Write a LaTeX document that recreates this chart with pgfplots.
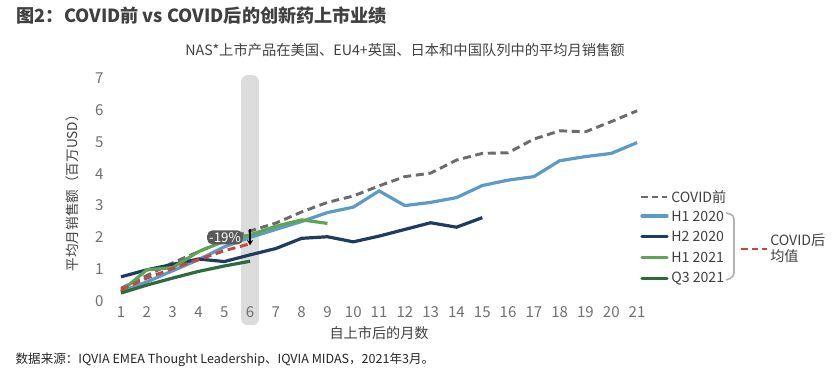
\documentclass[border=0pt]{standalone}
\usepackage{pgfplots}
\pgfplotsset{compat=1.18}
\usepackage{fontspec}
\setmainfont{Noto Sans CJK SC}
\usetikzlibrary{arrows.meta}
\definecolor{pregray}{HTML}{6B6B6B}
\definecolor{hoa}{HTML}{5B9BC6}
\definecolor{htb}{HTML}{1E3B62}
\definecolor{hoc}{HTML}{5EA553}
\definecolor{qtc}{HTML}{2E6A3B}
\definecolor{redd}{HTML}{C9463D}
\definecolor{txt}{HTML}{404040}
\definecolor{tick}{HTML}{707070}
\definecolor{band}{HTML}{DCDCDC}
\begin{document}
\begin{tikzpicture}
\begin{scope}[x=0.75pt,y=0.75pt]
\path[use as bounding box] (0,0) rectangle (837,371);
\node[anchor=west,text=txt,font=\fontsize{13.6}{15}\selectfont\bfseries] at (12,355) {图2：COVID前 vs COVID后的创新药上市业绩};
\node[text=txt,font=\fontsize{10.7}{12}\selectfont] at (405,321) {NAS*上市产品在美国、EU4+英国、日本和中国队列中的平均月销售额};
\node[anchor=west,text=black!85,font=\fontsize{9.4}{11}\selectfont] at (11,11) {数据来源：IQVIA EMEA Thought Leadership、IQVIA MIDAS，2021年3月。};
% legend
\draw[pregray,line width=2.2pt,dash pattern=on 5pt off 3pt] (641,174) -- (667,174);
\node[anchor=west,text=txt,font=\fontsize{10.6}{12}\selectfont,inner sep=0pt] at (671,174) {COVID前};
\draw[hoa,line width=2.6pt,line cap=round] (642,155) -- (667,155);
\node[anchor=west,text=txt,font=\fontsize{10.6}{12}\selectfont,inner sep=0pt] at (671,155) {H1 2020};
\draw[htb,line width=2.6pt,line cap=round] (642,134.3) -- (667,134.3);
\node[anchor=west,text=txt,font=\fontsize{10.6}{12}\selectfont,inner sep=0pt] at (671,134.3) {H2 2020};
\draw[hoc,line width=2.6pt,line cap=round] (642,113.7) -- (667,113.7);
\node[anchor=west,text=txt,font=\fontsize{10.6}{12}\selectfont,inner sep=0pt] at (671,113.7) {H1 2021};
\draw[qtc,line width=2.6pt,line cap=round] (642,92.7) -- (667,92.7);
\node[anchor=west,text=txt,font=\fontsize{10.6}{12}\selectfont,inner sep=0pt] at (671,92.7) {Q3 2021};
\draw[black!30,line width=1.2pt,rounded corners=3pt] (726,158) -- (734,156) -- (734,94) -- (726,91);
\draw[redd,line width=2.2pt,dash pattern=on 5pt off 3pt] (741,122) -- (767,122);
\node[anchor=north west,text=txt,font=\fontsize{10.6}{12}\selectfont,inner sep=0pt,align=left] at (770,138) {COVID后\\均值};
\end{scope}
\begin{axis}[
  at={(81.1pt,52.5pt)}, anchor=south west,
  scale only axis, width=406.4pt, height=167pt,
  xmin=0.5, xmax=21.5, ymin=0, ymax=7,
  clip=false, axis on top,
  axis line style={draw=none},
  major tick length=0pt,
  xtick={1,...,21}, ytick={0,...,7},
  /pgf/number format/assume math mode=true,
  ticklabel style={text=tick,font=\fontsize{11.3}{12}\selectfont},
  xticklabel style={yshift=-1pt},
  xlabel={自上市后的月数},
  xlabel style={at={(axis description cs:0.5,-0.144)},anchor=center,text=txt,font=\fontsize{10.6}{12}\selectfont},
  ylabel={平均月销售额（百万USD）},
  ylabel style={at={(axis description cs:-0.066,0.5)},anchor=center,text=txt,font=\fontsize{10.2}{12}\selectfont},
]
\fill[band,rounded corners=5pt] (axis cs:5.65,-0.76) rectangle (axis cs:6.35,7.1);
\addplot[pregray,line width=2.2pt,dash pattern=on 6pt off 3.5pt] coordinates {
(1,0.4)(2,0.8)(3,1.2)(4,1.55)(5,1.9)(6,2.2)(7,2.45)(8,2.8)(9,3.1)(10,3.3)(11,3.62)(12,3.91)(13,4.02)(14,4.43)(15,4.64)(16,4.66)(17,5.09)(18,5.35)(19,5.32)(20,5.64)(21,5.98)};
\addplot[hoa,line width=2.4pt] coordinates {
(1,0.3)(2,0.6)(3,0.95)(4,1.3)(5,1.7)(6,2.0)(7,2.25)(8,2.5)(9,2.78)(10,2.95)(11,3.46)(12,3.0)(13,3.1)(14,3.25)(15,3.63)(16,3.8)(17,3.91)(18,4.41)(19,4.54)(20,4.64)(21,4.98)};
\addplot[htb,line width=2.4pt] coordinates {
(1,0.76)(2,0.98)(3,1.15)(4,1.32)(5,1.24)(6,1.45)(7,1.65)(8,1.97)(9,2.02)(10,1.86)(11,2.04)(12,2.25)(13,2.46)(14,2.32)(15,2.62)};
\addplot[hoc,line width=2.4pt] coordinates {
(1,0.3)(2,0.98)(3,1.05)(4,1.55)(5,1.88)(6,2.08)(7,2.35)(8,2.55)(9,2.44)};
\addplot[qtc,line width=2.4pt] coordinates {
(1,0.25)(2,0.5)(3,0.72)(4,0.93)(5,1.1)(6,1.25)};
\addplot[redd,line width=2.2pt,dash pattern=on 6pt off 3.5pt] coordinates {
(1,0.35)(2,0.72)(3,1.02)(4,1.3)(5,1.58)(6,1.8)};
\draw[black,line width=1.3pt,-{Stealth[length=4pt,width=4.5pt]}] (axis cs:6,2.25) -- (axis cs:6,1.75);
\node[fill=black!65,text=white,rounded corners=4pt,inner sep=1.5pt,font=\fontsize{10}{11}\selectfont] at (axis cs:5.03,2.0) {-19\%};
\end{axis}
\end{tikzpicture}
\end{document}
